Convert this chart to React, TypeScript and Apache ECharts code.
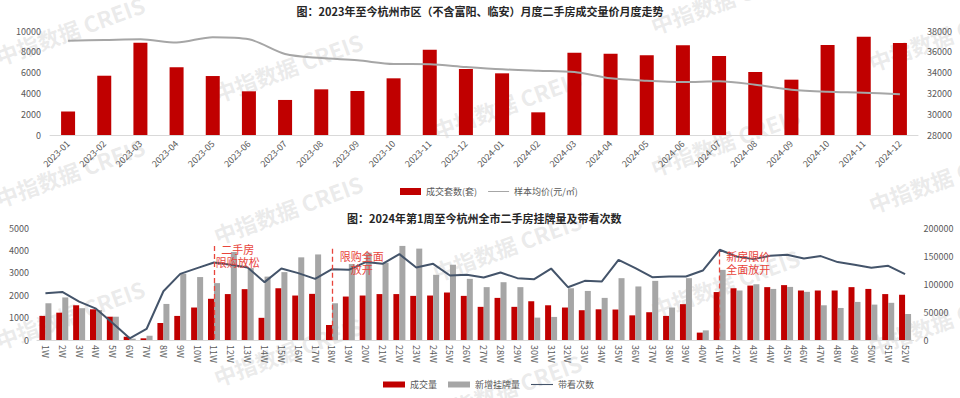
import React, { useEffect, useRef } from 'react';
import * as echarts from 'echarts';

const months = ['2023-01', '2023-02', '2023-03', '2023-04', '2023-05', '2023-06', '2023-07', '2023-08', '2023-09', '2023-10', '2023-11', '2023-12', '2024-01', '2024-02', '2024-03', '2024-04', '2024-05', '2024-06', '2024-07', '2024-08', '2024-09', '2024-10', '2024-11', '2024-12'];
const monthlyDeals = [2250, 5700, 8880, 6510, 5670, 4200, 3370, 4390, 4230, 5450, 8200, 6350, 5930, 2180, 7920, 7820, 7660, 8620, 7600, 6060, 5320, 8650, 9450, 8850];
const avgPrice = [37070, 37130, 37200, 36900, 37400, 37200, 35790, 35400, 35180, 34830, 34800, 34540, 34320, 34180, 34060, 33450, 33220, 33100, 33160, 32840, 32360, 32160, 32070, 31910];

const weeks = ['1W', '2W', '3W', '4W', '5W', '6W', '7W', '8W', '9W', '10W', '11W', '12W', '13W', '14W', '15W', '16W', '17W', '18W', '19W', '20W', '21W', '22W', '23W', '24W', '25W', '26W', '27W', '28W', '29W', '30W', '31W', '32W', '33W', '34W', '35W', '36W', '37W', '38W', '39W', '40W', '41W', '42W', '43W', '44W', '45W', '46W', '47W', '48W', '49W', '50W', '51W', '52W'];
const weeklyDeals = [1075, 1220, 1550, 1370, 1040, 150, 75, 760, 1075, 1450, 1840, 2050, 2270, 990, 2310, 1985, 2060, 670, 1940, 1985, 2050, 2050, 1970, 1985, 2120, 1970, 1480, 1880, 1480, 1730, 1550, 1450, 1330, 1370, 1360, 1100, 1240, 1075, 1600, 330, 2140, 2310, 2430, 2360, 2450, 2210, 2210, 2210, 2360, 2280, 2050, 2020];
const newListings = [1640, 1900, 1420, 1340, 1040, 60, 190, 1610, 2960, 2810, 2540, 3930, 3210, 2830, 3030, 3690, 3820, 1640, 3390, 3900, 3450, 4200, 4080, 2910, 3360, 2730, 2360, 2580, 2360, 1000, 1030, 2310, 2190, 1880, 2760, 2390, 2640, 1450, 2760, 430, 3130, 2210, 2490, 2280, 2370, 2150, 1550, 1430, 1700, 1580, 1660, 1160];
const visits = [83600, 85900, 68600, 56000, 30000, 3000, 19700, 87000, 118100, 128300, 138400, 134200, 129400, 103300, 127600, 119400, 109200, 126500, 125300, 139100, 136000, 153400, 129400, 136000, 115100, 116400, 111500, 120500, 110400, 108600, 127600, 94300, 105600, 104400, 143200, 128300, 112200, 113300, 113300, 124000, 161100, 149100, 144400, 150400, 152200, 145600, 149800, 139100, 134300, 128900, 132500, 117600];

// policy annotations
const policyWeeks = ['11W', '18W', '41W'];
const policyLineTop = [168000, 163000, 158000];
const policyLabelWeeks = ['12W', '20W', '43W'];
const policyLabelValues = [150400, 138000, 138000];
const policyTexts = ['二手房\n限购放松', '限购全面\n放开', '新房限价\n全面放开'];

const FONT = '"Noto Sans CJK SC", "Noto Sans", sans-serif';
const RED = '#c00000';
const GRAY = '#a6a6a6';
const NAVY = '#44546a';
const ANNO = '#e8453c';
const LABEL = '#595959';
const LINE_ICON = 'path://M0,0H40V2H0Z';

export default function App() {
  const ref = useRef<HTMLDivElement>(null);
  useEffect(() => {
    const chart = echarts.init(ref.current!, undefined, { renderer: 'svg' });

    const watermarks: any[] = [];
    const cols = [0, 218, 437, 655, 873];
    cols.forEach((x, c) => {
      const base = 67 + 37 * c;
      for (let k = -1; k <= 2; k++) {
        const y = base + 142 * k;
        if (y > -5 && y < 460) {
          watermarks.push({
            type: 'text',
            x,
            y,
            rotation: 0.35,
            z: 0,
            silent: true,
            style: {
              text: '中指数据 CREIS',
              font: `bold 22px ${FONT}`,
              fill: 'rgba(175,175,175,0.26)',
              align: 'left',
              verticalAlign: 'bottom',
            },
          });
        }
      }
    });

    const plain = (v: number) => String(v);
    const axisLabelBase = { fontSize: 9, color: LABEL, fontFamily: FONT };
    const yBase = {
      splitLine: { show: false },
      axisLine: { show: false },
      axisTick: { show: false },
    };

    const option: any = {
      animation: false,
      backgroundColor: '#ffffff',
      textStyle: { fontFamily: FONT },
      graphic: watermarks,
      title: [
        {
          text: '图：2023年至今杭州市区（不含富阳、临安）月度二手房成交量价月度走势',
          left: 'center',
          top: 5,
          padding: 0,
          textStyle: { fontSize: 11, fontWeight: 'bold', color: '#262626', fontFamily: FONT },
        },
        {
          text: '图：2024年第1周至今杭州全市二手房挂牌量及带看次数',
          left: 347,
          top: 212,
          padding: 0,
          textStyle: { fontSize: 11, fontWeight: 'bold', color: '#262626', fontFamily: FONT },
        },
      ],
      legend: [
        {
          data: [
            { name: '成交套数(套)', icon: 'rect' },
            { name: '样本均价(元/㎡)', icon: LINE_ICON },
          ],
          left: 400,
          top: 187,
          padding: 0,
          itemWidth: 21,
          itemHeight: 7,
          itemGap: 11,
          textStyle: { fontSize: 9, color: LABEL, fontFamily: FONT },
        },
        {
          data: [
            { name: '成交量', icon: 'rect' },
            { name: '新增挂牌量', icon: 'rect' },
            { name: '带看次数', icon: LINE_ICON },
          ],
          left: 383,
          top: 380,
          padding: 0,
          itemWidth: 22,
          itemHeight: 6,
          itemGap: 11,
          textStyle: { fontSize: 9, color: LABEL, fontFamily: FONT },
        },
      ],
      grid: [
        { left: 50, right: 42, top: 31, height: 104 },
        { left: 37, right: 46.5, top: 228, height: 112 },
      ],
      xAxis: [
        {
          gridIndex: 0,
          type: 'category',
          data: months,
          axisTick: { show: false },
          axisLine: { lineStyle: { color: '#d9d9d9', width: 1 } },
          axisLabel: { ...axisLabelBase, rotate: 45, margin: 7, interval: 0 },
        },
        {
          gridIndex: 1,
          type: 'category',
          data: weeks,
          axisTick: { show: false },
          axisLine: { lineStyle: { color: '#d9d9d9', width: 1 } },
          axisLabel: { ...axisLabelBase, rotate: -90, margin: 5, interval: 0 },
        },
      ],
      yAxis: [
        { gridIndex: 0, type: 'value', min: 0, max: 10000, interval: 2000, ...yBase, axisLabel: { ...axisLabelBase, margin: 9, formatter: plain } },
        { gridIndex: 0, type: 'value', position: 'right', min: 28000, max: 38000, interval: 2000, ...yBase, axisLabel: { ...axisLabelBase, margin: 9, formatter: plain } },
        { gridIndex: 1, type: 'value', min: 0, max: 5000, interval: 1000, ...yBase, axisLabel: { ...axisLabelBase, margin: 8, formatter: plain } },
        { gridIndex: 1, type: 'value', position: 'right', min: 0, max: 200000, interval: 50000, ...yBase, axisLabel: { ...axisLabelBase, margin: 10, formatter: plain } },
      ],
      series: [
        {
          name: '成交套数(套)',
          type: 'bar',
          xAxisIndex: 0,
          yAxisIndex: 0,
          data: monthlyDeals,
          barWidth: 14,
          itemStyle: { color: RED },
        },
        {
          name: '样本均价(元/㎡)',
          type: 'line',
          xAxisIndex: 0,
          yAxisIndex: 1,
          data: avgPrice,
          smooth: 0.3,
          symbol: 'none',
          lineStyle: { color: GRAY, width: 2 },
          itemStyle: { color: GRAY },
        },
        {
          name: '成交量',
          type: 'bar',
          xAxisIndex: 1,
          yAxisIndex: 2,
          data: weeklyDeals,
          barWidth: 6,
          barGap: '0%',
          itemStyle: { color: RED },
        },
        {
          name: '新增挂牌量',
          type: 'bar',
          xAxisIndex: 1,
          yAxisIndex: 2,
          data: newListings,
          barWidth: 6,
          barGap: '0%',
          itemStyle: { color: GRAY },
        },
        {
          name: '带看次数',
          type: 'line',
          xAxisIndex: 1,
          yAxisIndex: 3,
          data: visits,
          symbol: 'none',
          lineStyle: { color: NAVY, width: 2 },
          itemStyle: { color: NAVY },
          z: 3,
          markLine: {
            silent: true,
            symbol: ['none', 'none'],
            label: { show: false },
            lineStyle: { color: ANNO, width: 1.3, type: [5, 3] },
            data: policyWeeks.map((w, i) => [
              { coord: [w, policyLineTop[i]] },
              { coord: [w, 0] },
            ]),
          },
          markPoint: {
            silent: true,
            symbol: 'rect',
            symbolSize: 1,
            itemStyle: { color: 'rgba(0,0,0,0)' },
            label: {
              show: true,
              position: 'inside',
              color: ANNO,
              fontSize: 11,
              lineHeight: 13,
              align: 'center',
              fontFamily: FONT,
            },
            data: policyLabelWeeks.map((w, i) => ({
              coord: [w, policyLabelValues[i]],
              label: {
                formatter: policyTexts[i],
                offset: [[7, 0], [-4, 0], [-5, 0]][i],
              },
            })),
          },
        },
      ],
    };
    chart.setOption(option);
    return () => chart.dispose();
  }, []);

  return (
    <div
      ref={ref}
      style={{ position: 'absolute', left: 0, top: 0, width: 960, height: 398, background: '#fff' }}
    />
  );
}
